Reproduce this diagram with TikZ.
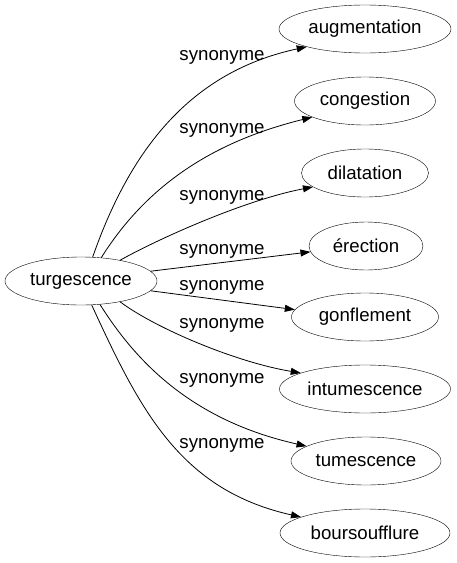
\documentclass[tikz,border=0pt]{standalone}
\usepackage{fontspec}
\setmainfont{Liberation Sans}
\usetikzlibrary{shapes.geometric, arrows.meta}

\begin{document}
\begin{tikzpicture}[x=1pt, y=-1pt,
        every node/.style={font=\fontsize{18.67}{22}\selectfont},
        word/.style={draw, ellipse, inner sep=0pt, minimum height=48pt},
        syn/.style={-{Triangle[length=10pt, width=7pt]}, line width=0.8pt},
        lbl/.style={inner sep=0pt}]
        \useasboundingbox (0,0) rectangle (456,563);
        \node[word, minimum width=152pt] (turgescence) at (81,281) {turgescence};
        \node[word, minimum width=172pt] (augmentation) at (365,29) {augmentation};
        \node[word, minimum width=141pt] (congestion) at (365,101) {congestion};
        \node[word, minimum width=127pt] (dilatation) at (365,173) {dilatation};
        \node[word, minimum width=114pt] (erection) at (366,246) {érection};
        \node[word, minimum width=147pt] (gonflement) at (365,317) {gonflement};
        \node[word, minimum width=171pt] (intumescence) at (365,389) {intumescence};
        \node[word, minimum width=150pt] (tumescence) at (366,461) {tumescence};
        \node[word, minimum width=170pt] (boursoufflure) at (365,533) {boursoufflure};
        \draw[syn] (turgescence.64) .. controls (130,150) and (190,72) .. (augmentation.197);
        \draw[syn] (turgescence.49) .. controls (150,180) and (220,140) .. (congestion.197);
        \draw[syn] (turgescence.28) .. controls (160,238) and (245,200) .. (dilatation.195);
        \draw[syn] (turgescence.8) -- (erection.186);
        \draw[syn] (turgescence.-8) -- (gonflement.174);
        \draw[syn] (turgescence.-28) .. controls (155,328) and (235,362) .. (intumescence.166);
        \draw[syn] (turgescence.-51) .. controls (135,360) and (190,420) .. (tumescence.166);
        \draw[syn] (turgescence.-66) .. controls (140,410) and (180,490) .. (boursoufflure.166);
        \node[lbl] (s1) at (222,57) {synonyme};
        \node[lbl] (s2) at (222,130) {synonyme};
        \node[lbl] (s3) at (222,197) {synonyme};
        \node[lbl] (s4) at (222,251) {synonyme};
        \node[lbl] (s5) at (222,287) {synonyme};
        \node[lbl] (s6) at (222,325) {synonyme};
        \node[lbl] (s7) at (222,380) {synonyme};
        \node[lbl] (s8) at (222,445) {synonyme};
    \end{tikzpicture}
\end{document}
